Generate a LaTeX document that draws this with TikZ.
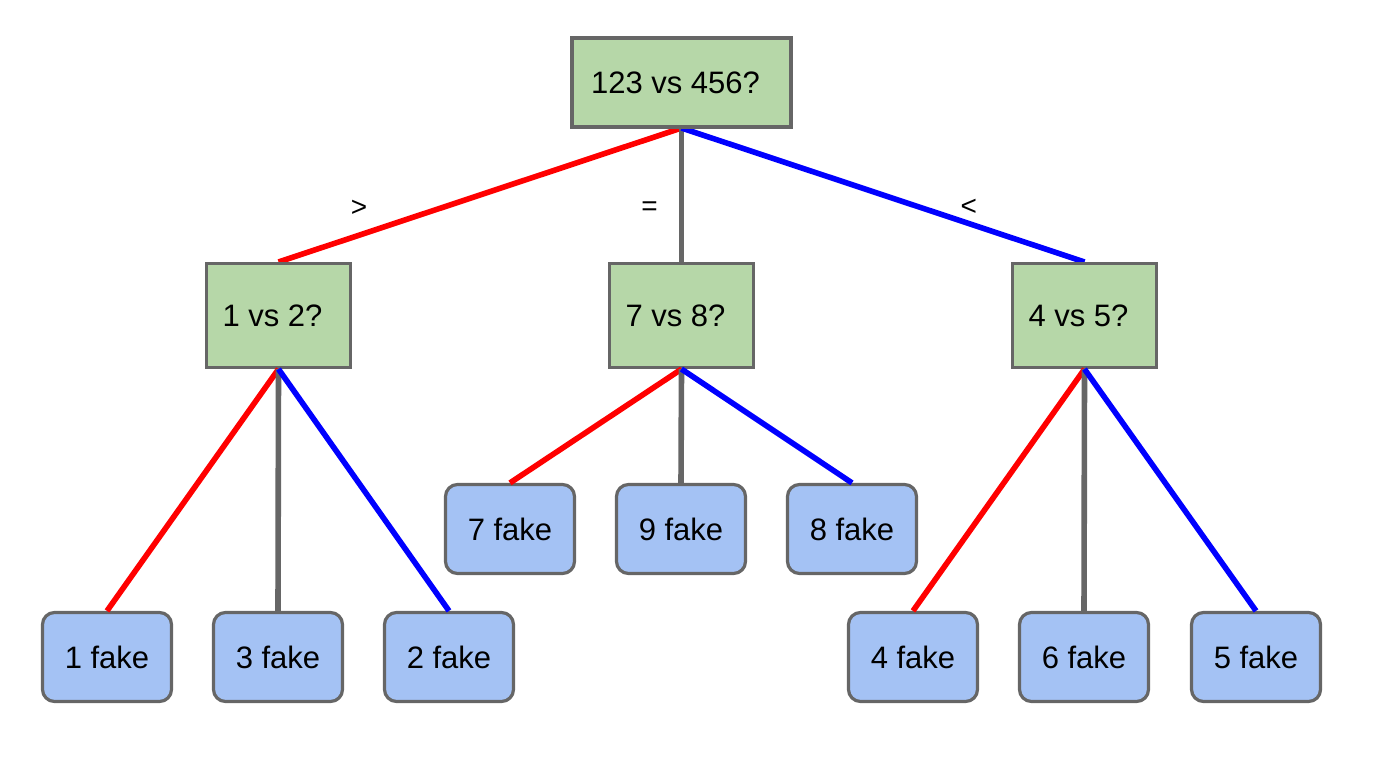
\documentclass[tikz,border=0pt]{standalone}
\usepackage{fontspec}
\setmainfont{Liberation Sans}
\usetikzlibrary{positioning}

\definecolor{qgreen}{HTML}{B6D7A8}
\definecolor{fakeblue}{HTML}{A4C2F4}
\definecolor{edgegray}{HTML}{666666}

\tikzset{
    weigh/.style={draw=edgegray, fill=qgreen, line width=1.6pt, font=\fontsize{15.5}{18}\selectfont,
        execute at begin node={\hspace*{-6pt}}},
    fake/.style={draw=edgegray, fill=fakeblue, line width=1.6pt, rounded corners=6pt,
        minimum width=64.5pt, minimum height=44.5pt, font=\fontsize{15.5}{18}\selectfont},
    heavy/.style={line width=2.8pt, red},
    even/.style={line width=2.8pt, edgegray},
    light/.style={line width=2.8pt, blue},
    sign/.style={inner sep=0pt, text=black, font=\fontsize{14}{16}\selectfont}
}

\begin{document}
\begin{tikzpicture}[x=0.5pt, y=-0.5pt]
        \useasboundingbox (0,0) rectangle (1374,769);
        %%%EDGES%%%
        \coordinate (r) at (681.5,128);
        \coordinate (a) at (278.5,262);
        \coordinate (b) at (681.5,262);
        \coordinate (c) at (1084.5,262);
        \draw[heavy] (r)--node[sign, pos=0.8, yshift=13.5pt]{>}(a);
        \draw[even] (r)--node[sign, pos=0.6, xshift=-16pt]{=}(b);
        \draw[light] (r)--node[sign, pos=0.713, yshift=8pt]{<}(c);
        %%%COMPONENTS%%%
        \node[weigh, minimum width=109.5pt, minimum height=44.5pt] (root) at (681.5,82.5) {123 vs 456?};
        \node[weigh, minimum width=72pt, minimum height=52pt] (left) at (278.5,315.5) {1 vs 2?};
        \node[weigh, minimum width=72pt, minimum height=52pt] (mid) at (681.5,315.5) {7 vs 8?};
        \node[weigh, minimum width=72pt, minimum height=52pt] (right) at (1084.5,315.5) {4 vs 5?};
        %leaves
        \node[fake] (f1) at (107,657) {1 fake};
        \node[fake] (f3) at (278,657) {3 fake};
        \node[fake] (f2) at (449,657) {2 fake};
        \node[fake] (f7) at (510,529) {7 fake};
        \node[fake] (f9) at (681,529) {9 fake};
        \node[fake] (f8) at (852,529) {8 fake};
        \node[fake] (f4) at (913,657) {4 fake};
        \node[fake] (f6) at (1084,657) {6 fake};
        \node[fake] (f5) at (1256,657) {5 fake};
        %next
        \draw[heavy] (left.south)--(f1.north);
        \draw[even] (left.south)--(f3.north);
        \draw[light] (left.south)--(f2.north);
        \draw[heavy] (mid.south)--(f7.north);
        \draw[even] (mid.south)--(f9.north);
        \draw[light] (mid.south)--(f8.north);
        \draw[heavy] (right.south)--(f4.north);
        \draw[even] (right.south)--(f6.north);
        \draw[light] (right.south)--(f5.north);
    \end{tikzpicture}
\end{document}
